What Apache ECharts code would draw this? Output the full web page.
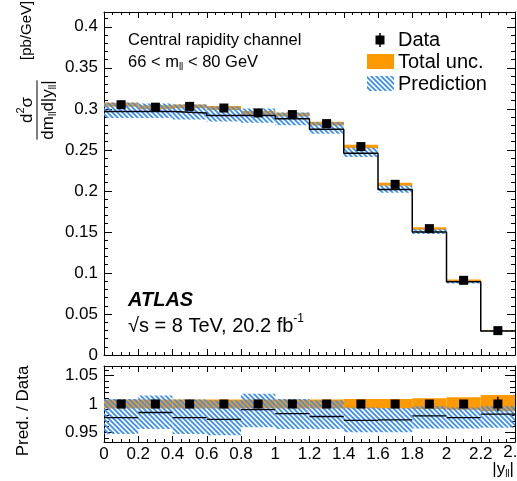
<!DOCTYPE html>
<html>
<head>
<meta charset="utf-8">
<script src="https://cdn.jsdelivr.net/npm/echarts@6/dist/echarts.min.js"></script>
<style>
html, body { margin: 0; padding: 0; background: #fff; }
#chart { width: 517px; height: 481px; }
</style>
</head>
<body>
<div id="chart"></div>
<script>
// bin edges in |y_ll|
var edges = [0, 0.2, 0.4, 0.6, 0.8, 1.0, 1.2, 1.4, 1.6, 1.8, 2.0, 2.2, 2.4];
// measured cross section [pb/GeV]
var dataVal = [0.305, 0.302, 0.303, 0.301, 0.295, 0.293, 0.282, 0.254, 0.208, 0.154, 0.091, 0.0297];
// relative stat. error of data
var dataErr = [0.002, 0.002, 0.002, 0.002, 0.002, 0.002, 0.002, 0.003, 0.003, 0.004, 0.005, 0.013];
// prediction in main panel
var predVal = [0.2968, 0.2968, 0.2948, 0.292, 0.292, 0.288, 0.275, 0.246, 0.2016, 0.150, 0.0892, 0.0292];
// prediction / data
var ratioVal = [0.976, 0.985, 0.976, 0.973, 0.990, 0.983, 0.978, 0.971, 0.972, 0.979, 0.976, 0.982];
var predLo = [0.947, 0.956, 0.947, 0.945, 0.959, 0.956, 0.956, 0.950, 0.950, 0.957, 0.957, 0.958];
var predHi = [1.009, 1.015, 1.008, 1.006, 1.018, 1.009, 1.006, 0.994, 0.993, 0.996, 0.994, 0.996];
// total uncertainty (relative to data)
var totLo = [0.992, 0.992, 0.992, 0.992, 0.992, 0.992, 0.992, 0.992, 0.992, 0.991, 0.990, 0.987];
var totHi = [1.008, 1.008, 1.008, 1.008, 1.008, 1.008, 1.008, 1.009, 1.009, 1.010, 1.012, 1.016];
// axis ticks
var yMainMajor = [0, 0.05, 0.1, 0.15, 0.2, 0.25, 0.3, 0.35, 0.4];
var yRatioMajor = [0.95, 1, 1.05];

var FONT = '"Liberation Sans", Arial, Helvetica, sans-serif';
var ORANGE = '#ff9900';
var BLUE = '#3a8ef6';

function minorsOf(lo, hi, step, majors) {
  var out = [];
  for (var k = Math.round(lo / step); k * step <= hi + 1e-9; k++) {
    var v = +(k * step).toFixed(4);
    if (majors.indexOf(v) < 0) out.push(v);
  }
  return out;
}
var yMainMinor = minorsOf(0.01, 0.41, 0.01, yMainMajor);
var yRatioMinor = minorsOf(0.94, 1.06, 0.01, yRatioMajor);

function makeHatch() {
  var c = document.createElement('canvas');
  c.width = 5; c.height = 5;
  var g = c.getContext('2d');
  g.strokeStyle = BLUE;
  g.lineWidth = 1.8;
  g.beginPath();
  g.moveTo(-1, -1); g.lineTo(6, 6);
  g.moveTo(-1, 4); g.lineTo(1, 6);
  g.moveTo(4, -1); g.lineTo(6, 1);
  g.stroke();
  return c;
}
var hatch = { image: makeHatch(), repeat: 'repeat' };

// build rows
var mainTot = [], mainPred = [], ratTot = [], ratPred = [], ratLine = [];
var mainErr = [], ratErr = [], mainPts = [], ratPts = [], mainStep = [];
for (var i = 0; i < dataVal.length; i++) {
  var x0 = edges[i], x1 = edges[i + 1], xc = (x0 + x1) / 2;
  mainTot.push([x0, x1, dataVal[i] * totLo[i], dataVal[i] * totHi[i]]);
  mainPred.push([x0, x1, dataVal[i] * predLo[i], dataVal[i] * predHi[i]]);
  ratTot.push([x0, x1, totLo[i], totHi[i]]);
  ratPred.push([x0, x1, predLo[i], predHi[i]]);
  ratLine.push([x0, x1, ratioVal[i]]);
  mainErr.push([xc, dataVal[i] * (1 - dataErr[i]), dataVal[i] * (1 + dataErr[i])]);
  ratErr.push([xc, 1 - dataErr[i], 1 + dataErr[i]]);
  mainPts.push([xc, dataVal[i]]);
  ratPts.push([xc, 1]);
  mainStep.push([x0, predVal[i]]);
  mainStep.push([x1, predVal[i]]);
}

function bandSeries(xi, yi, rows, fill) {
  return {
    type: 'custom', xAxisIndex: xi, yAxisIndex: yi, silent: true, clip: true,
    data: rows, encode: { x: [0, 1], y: [2, 3] },
    renderItem: function (params, api) {
      var a = api.coord([api.value(0), api.value(3)]);
      var b = api.coord([api.value(1), api.value(2)]);
      return { type: 'rect', shape: { x: a[0], y: a[1], width: b[0] - a[0], height: b[1] - a[1] },
        style: { fill: fill } };
    }
  };
}
function errSeries(xi, yi, rows) {
  return {
    type: 'custom', xAxisIndex: xi, yAxisIndex: yi, silent: true,
    data: rows, encode: { x: 0, y: [1, 2] },
    renderItem: function (params, api) {
      var a = api.coord([api.value(0), api.value(1)]);
      var b = api.coord([api.value(0), api.value(2)]);
      return { type: 'line', shape: { x1: a[0], y1: a[1], x2: b[0], y2: b[1] },
        style: { stroke: '#000', lineWidth: 1.5 } };
    }
  };
}
function segSeries(xi, yi, rows) {
  return {
    type: 'custom', xAxisIndex: xi, yAxisIndex: yi, silent: true,
    data: rows, encode: { x: [0, 1], y: 2 },
    renderItem: function (params, api) {
      var a = api.coord([api.value(0), api.value(2)]);
      var b = api.coord([api.value(1), api.value(2)]);
      return { type: 'line', shape: { x1: a[0], y1: a[1], x2: b[0], y2: a[1] },
        style: { stroke: '#000', lineWidth: 1.3 } };
    }
  };
}

var tickStyle = { color: '#000', width: 1 };
function xAx(grid, pos, labels) {
  return {
    type: 'value', gridIndex: grid, position: pos, min: 0, max: 2.4, interval: 0.2,
    axisLine: { show: true, onZero: false, lineStyle: tickStyle },
    axisTick: { show: true, inside: true, length: 6, lineStyle: tickStyle },
    minorTick: { show: true, splitNumber: 4, length: 3, lineStyle: tickStyle },
    axisLabel: { show: labels, showMaxLabel: false, color: '#000', fontSize: 17, fontFamily: FONT, margin: 4 },
    splitLine: { show: false }, minorSplitLine: { show: false }
  };
}
function yAx(grid, pos, min, max, ticks, len, labels, line) {
  return {
    type: 'value', gridIndex: grid, position: pos, min: min, max: max,
    axisLine: { show: line, onZero: false, lineStyle: tickStyle },
    axisTick: { show: true, inside: true, length: len, customValues: ticks, lineStyle: tickStyle },
    axisLabel: { show: labels, customValues: ticks, color: '#000', fontSize: 17, fontFamily: FONT, margin: 6 },
    splitLine: { show: false }
  };
}

// text helpers
var mctx = document.createElement('canvas').getContext('2d');
function tw(s, size, weight, style) {
  mctx.font = (style || 'normal') + ' ' + (weight || 'normal') + ' ' + size + 'px ' + FONT;
  return mctx.measureText(s).width;
}
// pieces: [text, size, dy, weight, style]
function runText(pieces, x, y, align) {
  var total = 0;
  pieces.forEach(function (p) { total += tw(p[0], p[1], p[3], p[4]); });
  var cx = align === 'center' ? x - total / 2 : (align === 'right' ? x - total : x);
  return pieces.map(function (p) {
    var el = { type: 'text', x: cx, y: y + (p[2] || 0), silent: true,
      style: { text: p[0], fontSize: p[1], fontFamily: FONT, fontWeight: p[3] || 'normal',
        fontStyle: p[4] || 'normal', fill: '#000', align: 'left', verticalAlign: 'middle' } };
    cx += tw(p[0], p[1], p[3], p[4]);
    return el;
  });
}

var denom = [['dm', 17], ['ll', 10, 5], ['d|y', 17], ['ll', 10, 5], ['|', 17]];
var denomW = 0;
denom.forEach(function (p) { denomW += tw(p[0], p[1]); });

var graphics = [].concat(
  runText([['Central rapidity channel', 16.5]], 128, 40, 'left'),
  runText([['66 < m', 16.5], ['ll', 10, 5], [' < 80 GeV', 16.5]], 128, 62, 'left'),
  runText([['ATLAS', 20, 0, 'bold', 'italic']], 128, 300, 'left'),
  runText([['\u221As = 8 TeV, 20.2 fb', 20], ['-1', 12, -7]], 128, 326, 'left'),
  runText([['Data', 20]], 398, 40, 'left'),
  runText([['Total unc.', 20]], 398, 62, 'left'),
  runText([['Prediction', 20]], 398, 84, 'left'),
  runText([['|y', 17], ['ll', 10, 5], ['|', 17]], 514, 469, 'right'),
  [
    // last x tick label, cut by the picture edge as in the original
    { type: 'text', x: 515, y: 452, silent: true,
      style: { text: '2.4', fontSize: 17, fontFamily: FONT, fill: '#000', align: 'center', verticalAlign: 'middle' } },
    { type: 'line', shape: { x1: 380, y1: 33, x2: 380, y2: 47 }, style: { stroke: '#000', lineWidth: 1.5 } },
    { type: 'rect', shape: { x: 375.5, y: 35.5, width: 9, height: 9 }, style: { fill: '#000' } },
    { type: 'rect', shape: { x: 367, y: 54, width: 27, height: 15 }, style: { fill: ORANGE } },
    { type: 'rect', shape: { x: 367, y: 76, width: 27, height: 15 }, style: { fill: hatch } },
    { type: 'group', x: 37, y: 110, rotation: Math.PI / 2, silent: true,
      children: [].concat(
        runText([['d', 17], ['2', 11, -6], ['\u03C3', 17]], 0, -10, 'center'),
        [{ type: 'line', shape: { x1: -denomW / 2, y1: 0, x2: denomW / 2, y2: 0 }, style: { stroke: '#000', lineWidth: 1 } }],
        runText(denom, 0, 11, 'center'),
        runText([['[pb/GeV]', 15]], 50, -10, 'left')
      ) },
    { type: 'group', x: 23, y: 411, rotation: Math.PI / 2, silent: true,
      children: runText([['Pred. / Data', 17]], 0, 0, 'center') }
  ]
);

var chart = echarts.init(document.getElementById('chart'), null, { renderer: 'canvas' });
chart.setOption({
  animation: false,
  backgroundColor: '#fff',
  grid: [
    { left: 104, top: 12, width: 411, height: 343 },
    { left: 104, top: 366, width: 411, height: 76 }
  ],
  xAxis: [xAx(0, 'bottom', false), xAx(0, 'top', false), xAx(1, 'bottom', true), xAx(1, 'top', false)],
  yAxis: [
    yAx(0, 'left', 0, 0.418, yMainMajor, 8, true, true),
    yAx(0, 'left', 0, 0.418, yMainMinor, 4, false, false),
    yAx(0, 'right', 0, 0.418, yMainMajor, 8, false, true),
    yAx(0, 'right', 0, 0.418, yMainMinor, 4, false, false),
    yAx(1, 'left', 0.933, 1.067, yRatioMajor, 10, true, true),
    yAx(1, 'left', 0.933, 1.067, yRatioMinor, 5, false, false),
    yAx(1, 'right', 0.933, 1.067, yRatioMajor, 10, false, true),
    yAx(1, 'right', 0.933, 1.067, yRatioMinor, 5, false, false)
  ],
  series: [
    bandSeries(0, 0, mainTot, ORANGE),
    bandSeries(0, 0, mainPred, hatch),
    { type: 'line', xAxisIndex: 0, yAxisIndex: 0, data: mainStep, symbol: 'none', silent: true,
      lineStyle: { color: '#000', width: 1.5 } },
    errSeries(0, 0, mainErr),
    { type: 'scatter', xAxisIndex: 0, yAxisIndex: 0, data: mainPts, symbol: 'rect', symbolSize: 9,
      itemStyle: { color: '#000', opacity: 1 }, silent: true },
    bandSeries(2, 4, ratTot, ORANGE),
    bandSeries(2, 4, ratPred, hatch),
    segSeries(2, 4, ratLine),
    errSeries(2, 4, ratErr),
    { type: 'scatter', xAxisIndex: 2, yAxisIndex: 4, data: ratPts, symbol: 'rect', symbolSize: 9,
      itemStyle: { color: '#000', opacity: 1 }, silent: true }
  ],
  graphic: graphics
});
</script>
</body>
</html>
